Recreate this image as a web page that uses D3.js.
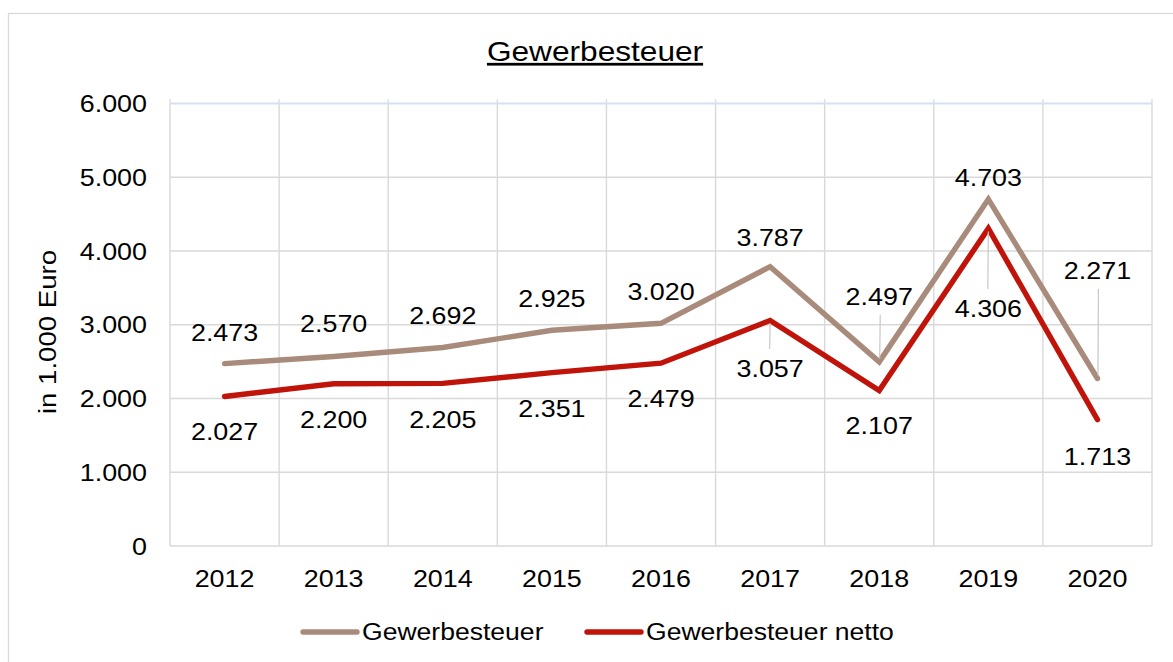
<!DOCTYPE html>
<html>
<head>
<meta charset="utf-8">
<script src="https://cdn.jsdelivr.net/npm/d3@7"></script>
<style>
  html, body { margin: 0; padding: 0; background: #fff; }
  svg { display: block; font-family: "Liberation Sans", Arial, sans-serif; }
</style>
</head>
<body>
<svg id="chart" width="1173" height="662"></svg>
<script>
// ---- data ----
const years = ["2012","2013","2014","2015","2016","2017","2018","2019","2020"];
const gewerbesteuer = [2473, 2570, 2692, 2925, 3020, 3787, 2497, 4703, 2271];
const gewerbesteuerNetto = [2027, 2200, 2205, 2351, 2479, 3057, 2107, 4306, 1713];
const yTicks = [0, 1000, 2000, 3000, 4000, 5000, 6000];
const seriesNames = ["Gewerbesteuer", "Gewerbesteuer netto"];
const titleText = "Gewerbesteuer";
const yAxisTitle = "in 1.000 Euro";

// ---- layout (label baseline offsets from the point, px) ----
const labelDyGross = [-23, -24, -23.5, -23, -23, -21, -57, -13, -99.5];
const labelDyNet   = [43.5, 44.5, 45, 44, 44, 56.5, 43.5, 88.6, 45];
const leaderGross  = [false, false, false, false, false, false, true, false, true];
const leaderNet    = [false, false, false, false, false, true, false, true, false];

const colors = ["#a98b7c", "#c0130a"];
const gridColor = "#d9d9d9";
const K = 1.12; // horizontal glyph stretch

const svg = d3.select("#chart");
const M = { left: 170, right: 1152, top: 103.5, bottom: 546 };

const fmt = d3.formatLocale({ decimal: ",", thousands: ".", grouping: [3], currency: ["", "€"] }).format(",d");

const x = d3.scaleBand().domain(years).range([M.left, M.right]);
const y = d3.scaleLinear().domain([0, 6000]).range([M.bottom, M.top]);
const cx = d => x(d) + x.bandwidth() / 2;

function stext(parent, px, py, str, size, anchor, k, extra) {
  return parent.append("text")
    .attr("transform", `translate(${px},${py})${extra || ""} scale(${k},1)`)
    .attr("font-size", size)
    .attr("text-anchor", anchor)
    .attr("fill", "#000")
    .text(str);
}

// outer border (only top/left visible)
svg.append("rect").attr("x", 8.5).attr("y", 13.5).attr("width", 1200).attr("height", 700)
  .attr("fill", "none").attr("stroke", gridColor).attr("stroke-width", 1.3);

// title
stext(svg, 595, 61, titleText, 27.5, "middle", 1.15).attr("text-decoration", "underline");

// horizontal gridlines
svg.append("g").selectAll("line").data(yTicks.filter(v => v < 6000)).join("line")
  .attr("x1", M.left).attr("x2", M.right)
  .attr("y1", d => y(d)).attr("y2", d => y(d))
  .attr("stroke", gridColor).attr("stroke-width", 1.4);

// vertical gridlines at category boundaries
const bounds = years.map(d => x(d)).concat([M.right]);
svg.append("g").selectAll("line").data(bounds).join("line")
  .attr("x1", d => d).attr("x2", d => d)
  .attr("y1", M.top).attr("y2", M.bottom)
  .attr("stroke", gridColor).attr("stroke-width", 1.4);

// top axis line (light blue) with ticks
svg.append("line").attr("x1", M.left).attr("x2", M.right).attr("y1", M.top).attr("y2", M.top)
  .attr("stroke", "#d5e0f1").attr("stroke-width", 1.8);
svg.append("g").selectAll("line").data(bounds).join("line")
  .attr("x1", d => d).attr("x2", d => d)
  .attr("y1", M.top - 4.5).attr("y2", M.top)
  .attr("stroke", "#d5e0f1").attr("stroke-width", 1.4);

// y tick labels
const gy = svg.append("g");
yTicks.forEach(v => stext(gy, 147, y(v) + 8.5, fmt(v), 24, "end", K));

// x tick labels
const gx = svg.append("g");
years.forEach(d => stext(gx, cx(d), 587, d, 24, "middle", K));

// y axis title
stext(svg, 56, 332, yAxisTitle, 24, "middle", 1.15, " rotate(-90)");

// lines
const line = d3.line().x((d, i) => cx(years[i])).y(d => y(d));
[gewerbesteuer, gewerbesteuerNetto].forEach((vals, s) => {
  svg.append("path").datum(vals).attr("d", line)
    .attr("fill", "none").attr("stroke", colors[s]).attr("stroke-width", 5.4)
    .attr("stroke-linejoin", "miter").attr("stroke-linecap", "round");
});

// leader lines
const gl = svg.append("g").attr("stroke", "#c8c8c8").attr("stroke-width", 1.2);
years.forEach((d, i) => {
  if (leaderGross[i]) {
    const py = y(gewerbesteuer[i]);
    gl.append("line").attr("x1", cx(d) + 0.5).attr("x2", cx(d) + 1)
      .attr("y1", py - 3).attr("y2", py + labelDyGross[i] + 10);
  }
  if (leaderNet[i]) {
    const py = y(gewerbesteuerNetto[i]);
    gl.append("line").attr("x1", cx(d)).attr("x2", cx(d) - 0.5)
      .attr("y1", py + 3).attr("y2", py + labelDyNet[i] - 28);
  }
});

// data labels
const gd = svg.append("g");
years.forEach((d, i) => {
  stext(gd, cx(d), y(gewerbesteuer[i]) + labelDyGross[i], fmt(gewerbesteuer[i]), 24, "middle", K);
  stext(gd, cx(d), y(gewerbesteuerNetto[i]) + labelDyNet[i], fmt(gewerbesteuerNetto[i]), 24, "middle", K);
});

// legend
const legendX = [303, 587];
const gleg = svg.append("g");
seriesNames.forEach((name, s) => {
  gleg.append("line").attr("x1", legendX[s]).attr("x2", legendX[s] + 54)
    .attr("y1", 632).attr("y2", 632)
    .attr("stroke", colors[s]).attr("stroke-width", 5.4).attr("stroke-linecap", "round");
  stext(gleg, legendX[s] + 59, 640, name, 23.5, "start", 1.13);
});
</script>
</body>
</html>
